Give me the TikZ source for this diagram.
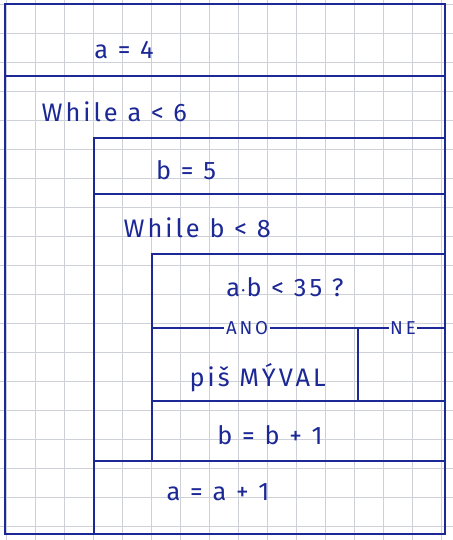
\documentclass[tikz,border=0pt]{standalone}
\usepackage{fontspec}
\setmainfont{Fira Sans}
\definecolor{pen}{RGB}{28,40,150}
\definecolor{paper}{RGB}{205,208,214}

\begin{document}
\begin{tikzpicture}[x=0.75pt, y=-0.75pt,
    box/.style={draw=pen, line width=1.3pt},
    cmd/.style={text=pen, font=\fontsize{19}{21}\selectfont\addfontfeature{LetterSpace=12}, inner sep=1pt},
    branch/.style={text=pen, font=\fontsize{14}{16}\selectfont\addfontfeature{LetterSpace=15}, inner sep=1pt}
    ]
    \useasboundingbox (0,0) rectangle (453,540);
    % squared paper
    \foreach \gx in {6,35,...,450} \draw [paper, line width=0.4pt] (\gx,0) -- (\gx,540);
    \foreach \gy in {4,33,...,540} \draw [paper, line width=0.4pt] (0,\gy) -- (453,\gy);

    \coordinate (tl) at (5,4);
    \coordinate (br) at (445,534);
    \draw [box] (tl) rectangle (br);

    \node [cmd] (seta) at (124,50) {a = 4};
    \draw [box] (5,76) -- (445,76);

    \node [cmd, anchor=west] (loopa) at (40,112) {While a < 6};
    \draw [box] (94,534) -- (94,138) -- (445,138);

    \node [cmd] (setb) at (186,170) {b = 5};
    \draw [box] (94,194) -- (445,194);

    \node [cmd, anchor=west] (loopb) at (122,228) {While b < 8};
    \draw [box] (152,461) -- (152,254) -- (445,254);

    \node [cmd] (cond) at (285,287) {a$\cdot$b < 35 ?};
    \node [branch] (yes) at (247,328) {ANO};
    \node [branch] (no) at (403,328) {NE};
    \draw [box] (152,328) -- (yes.west);
    \draw [box] (yes.east) -- (no.west);
    \draw [box] (no.east) -- (445,328);
    \draw [box] (358,328) -- (358,401);

    \node [cmd, anchor=west] (out) at (188,378) {piš MÝVAL};
    \draw [box] (152,401) -- (445,401);

    \node [cmd] (incb) at (270,435) {b = b + 1};
    \draw [box] (94,461) -- (445,461);

    \node [cmd] (inca) at (218,492) {a = a + 1};
\end{tikzpicture}
\end{document}
